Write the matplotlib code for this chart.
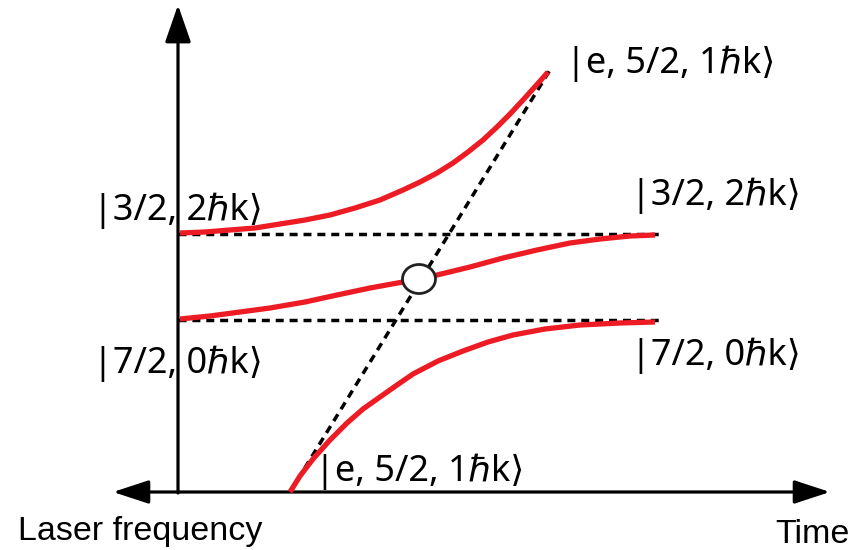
import matplotlib.pyplot as plt
from matplotlib.patches import Ellipse

# schematic coordinates (x: time, y: frequency, drawn top-down like the picture)
upper_x = [180, 205, 230, 255, 280, 305, 330, 355, 380, 403, 420, 437, 453, 468, 483, 497, 510, 523, 532, 541, 548]
upper_y = [233, 232, 230, 228, 224, 220, 215, 208, 200, 190, 182, 173, 163, 152, 140, 127, 114, 100, 90, 80, 72]

middle_x = [180, 210, 240, 270, 305, 337, 370, 403, 437, 470, 503, 537, 570, 600, 630, 655]
middle_y = [319, 316, 312, 308, 302, 295, 288, 282, 275, 267, 258, 250, 243, 239, 236, 235]

lower_x = [290, 300, 313, 330, 347, 363, 380, 397, 413, 438, 463, 488, 513, 545, 580, 620, 655]
lower_y = [492, 476, 459, 440, 423, 409, 397, 385, 374, 361, 351, 342, 335, 329, 325, 323, 322]

level_top = 234
level_bottom = 320
level_x = [178, 660]
diag_x = [290, 550]
diag_y = [492, 70]

crossing = (419, 279)

labels = [
    ("|e, 5/2, 1ℏk⟩", 566, 64),
    ("|3/2, 2ℏk⟩", 93, 211),
    ("|3/2, 2ℏk⟩", 631, 196),
    ("|7/2, 0ℏk⟩", 93, 364),
    ("|7/2, 0ℏk⟩", 631, 356),
    ("|e, 5/2, 1ℏk⟩", 315, 472),
]

red = '#ED1C24'
label_font = ['Noto Sans', 'DejaVu Sans']
axis_font = ['Liberation Sans', 'DejaVu Sans']

fig = plt.figure(figsize=(8.62, 5.5), dpi=100)
ax = fig.add_axes([0, 0, 1, 1])
ax.set_xlim(0, 862)
ax.set_ylim(550, 0)
ax.axis('off')

# axes arrows
ax.annotate('', xy=(178, 5), xytext=(178, 493),
            arrowprops=dict(arrowstyle='-|>,head_length=2.3,head_width=0.8',
                            mutation_scale=10, lw=2.3, color='k',
                            shrinkA=0, shrinkB=0))
ax.annotate('', xy=(830, 492), xytext=(113, 492),
            arrowprops=dict(arrowstyle='<|-|>,head_length=2.2,head_width=0.72',
                            mutation_scale=10, lw=2.3, color='k',
                            shrinkA=0, shrinkB=0))

# bare levels
dash = dict(color='k', lw=2.5, dashes=(2.3, 1.7))
ax.plot(level_x, [level_top, level_top], **dash)
ax.plot(level_x, [level_bottom, level_bottom], **dash)
ax.plot(diag_x, diag_y, **dash)

# dressed states
for xs, ys in [(upper_x, upper_y), (middle_x, middle_y), (lower_x, lower_y)]:
    ax.plot(xs, ys, color=red, lw=3.8, solid_capstyle='butt',
            solid_joinstyle='round', zorder=3)

ax.add_patch(Ellipse(crossing, 33, 29, facecolor='white', edgecolor='#222222',
                     lw=2, zorder=4))

for txt, x, y in labels:
    ax.text(x, y, txt, fontsize=26, family=label_font, ha='left', va='center', zorder=5)

ax.text(18, 540, 'Laser frequency', fontsize=24.5, family=axis_font, ha='left', va='baseline')
ax.text(775, 543, 'Time', fontsize=24.5, family=axis_font, ha='left', va='baseline')

fig.savefig('out.png', dpi=100)
